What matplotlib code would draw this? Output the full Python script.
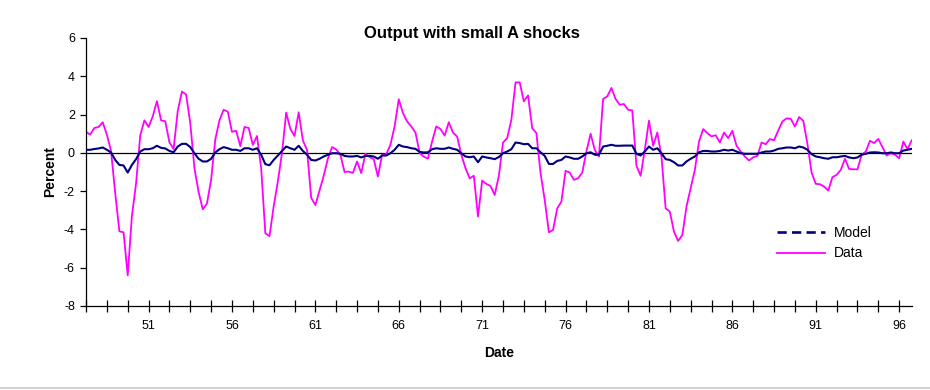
import numpy as np
import matplotlib
matplotlib.use("Agg")
import matplotlib.pyplot as plt
from matplotlib.lines import Line2D

plt.rcParams['font.family'] = ['Liberation Sans', 'DejaVu Sans']
plt.rcParams['axes.unicode_minus'] = False

# Quarterly observations, output deviations in percent
data = [
    1.1, 0.95, 1.3, 1.35, 1.6, 0.95, 0.1, -2.1, -4.1, -4.15,
    -6.4, -3.3, -1.6, 0.9, 1.7, 1.35, 1.9, 2.7, 1.7, 1.65,
    0.55, 0.2, 2.2, 3.2, 3.05, 1.55, -0.8, -2.05, -2.95, -2.65,
    -1.4, 0.7, 1.7, 2.25, 2.15, 1.1, 1.15, 0.35, 1.35, 1.3,
    0.42, 0.88, -0.8, -4.2, -4.35, -2.8, -1.5, 0.0, 2.1, 1.25,
    0.88, 2.12, 0.65, 0.15, -2.35, -2.73, -1.97, -1.2, -0.3, 0.3,
    0.18, -0.1, -1.0, -0.98, -1.05, -0.45, -1.06, -0.05, -0.22, -0.33,
    -1.24, -0.1, -0.07, 0.42, 1.38, 2.8, 2.08, 1.64, 1.38, 1.06,
    0.0, -0.2, -0.3, 0.6, 1.38, 1.25, 0.9, 1.6, 1.06, 0.85,
    -0.1, -0.8, -1.33, -1.2, -3.33, -1.45, -1.62, -1.73, -2.2, -1.2,
    0.54, 0.77, 1.73, 3.68, 3.68, 2.69, 3.0, 1.29, 1.03, -1.06,
    -2.46, -4.15, -4.03, -2.9, -2.55, -0.94, -1.03, -1.41, -1.33, -1.03,
    0.07, 1.0, 0.16, -0.19, 2.81, 2.95, 3.39, 2.81, 2.51, 2.55,
    2.25, 2.22, -0.68, -1.2, 0.16, 1.68, 0.37, 1.06, -0.19, -2.9,
    -3.07, -4.12, -4.6, -4.29, -2.8, -1.85, -0.89, 0.59, 1.24, 1.03,
    0.86, 0.92, 0.54, 1.06, 0.77, 1.15, 0.37, 0.07, -0.19, -0.4,
    -0.23, -0.16, 0.54, 0.45, 0.72, 0.66, 1.17, 1.64, 1.8, 1.78,
    1.38, 1.87, 1.68, 0.47, -1.03, -1.62, -1.64, -1.76, -1.97, -1.27,
    -1.15, -0.89, -0.31, -0.84, -0.86, -0.86, -0.1, 0.07, 0.63, 0.51,
    0.73, 0.3, -0.14, -0.02, -0.1, -0.28, 0.59, 0.19, 0.65,
]

model = [
    0.16, 0.16, 0.2, 0.23, 0.28, 0.16, 0.02, -0.37, -0.63, -0.66,
    -1.03, -0.63, -0.33, 0.07, 0.19, 0.19, 0.24, 0.37, 0.26, 0.23,
    0.1, 0.03, 0.33, 0.47, 0.47, 0.3, -0.02, -0.31, -0.45, -0.45,
    -0.31, 0.02, 0.19, 0.3, 0.24, 0.16, 0.16, 0.1, 0.24, 0.24,
    0.16, 0.24, -0.1, -0.59, -0.65, -0.37, -0.14, 0.1, 0.33, 0.24,
    0.16, 0.37, 0.1, -0.1, -0.37, -0.4, -0.31, -0.19, -0.1, -0.02,
    -0.02, -0.05, -0.16, -0.19, -0.19, -0.16, -0.24, -0.16, -0.16, -0.19,
    -0.31, -0.14, -0.14, -0.02, 0.16, 0.42, 0.33, 0.3, 0.24, 0.21,
    0.05, 0.02, 0.03, 0.19, 0.24, 0.21, 0.21, 0.28, 0.21, 0.16,
    -0.02, -0.19, -0.23, -0.19, -0.49, -0.19, -0.24, -0.28, -0.33, -0.22,
    -0.02, 0.07, 0.19, 0.54, 0.51, 0.45, 0.47, 0.24, 0.24, 0.03,
    -0.16, -0.58, -0.58, -0.42, -0.37, -0.19, -0.24, -0.31, -0.31, -0.19,
    -0.02, 0.03, -0.1, -0.1, 0.33, 0.37, 0.42, 0.37, 0.37, 0.38,
    0.38, 0.38, -0.05, -0.14, 0.07, 0.33, 0.16, 0.24, -0.02, -0.33,
    -0.37, -0.49, -0.66, -0.66, -0.45, -0.31, -0.19, 0.03, 0.1, 0.1,
    0.07, 0.07, 0.1, 0.16, 0.12, 0.16, 0.07, -0.02, -0.05, -0.05,
    -0.05, -0.05, 0.02, 0.07, 0.07, 0.12, 0.21, 0.24, 0.28, 0.28,
    0.24, 0.33, 0.28, 0.16, -0.07, -0.19, -0.23, -0.28, -0.31, -0.23,
    -0.23, -0.19, -0.16, -0.24, -0.28, -0.24, -0.1, -0.05, 0.02, 0.03,
    0.02, -0.02, -0.02, 0.02, -0.02, -0.02, 0.12, 0.16, 0.21,
]

year_labels = ['51', '56', '61', '66', '71', '76', '81', '86', '91', '96']

x = np.arange(len(data))

fig = plt.figure(figsize=(9.3, 3.9), dpi=100)
ax = fig.add_axes([0.0925, 0.2154, 0.8878, 0.6872])

ax.axhline(0, color='black', lw=0.9, zorder=1)
ax.plot(x, data, color='#FF00FF', lw=1.3, zorder=2)
ax.plot(x, model, color='#000080', lw=1.5, zorder=3)

ax.set_xlim(0, len(data) - 1)
ax.set_ylim(-8, 6)
ax.set_yticks(np.arange(-8, 7, 2))

# tick every 5 quarters, label every 20 quarters
ticks = np.arange(0, len(data), 5)
labels = [''] * len(ticks)
for k, lab in enumerate(year_labels):
    labels[3 + 4 * k] = lab
ax.set_xticks(ticks, labels)

for s in ['top', 'right']:
    ax.spines[s].set_visible(False)
for s in ['left', 'bottom']:
    ax.spines[s].set_linewidth(0.9)
ax.tick_params(axis='x', direction='inout', length=8, width=0.9, labelsize=9, pad=6)
ax.tick_params(axis='y', direction='out', length=4, width=0.9, labelsize=9, pad=4)

ax.set_xlabel('Date', fontsize=10, fontweight='bold', labelpad=10)
ax.set_ylabel('Percent', fontsize=10, fontweight='bold', labelpad=5)

fig.text(0.5075, 0.913, 'Output with small A shocks', fontsize=12,
         fontweight='bold', ha='center', va='center')

handles = [Line2D([], [], color='#000080', lw=1.9, linestyle=(0, (3.5, 2))),
           Line2D([], [], color='#FF00FF', lw=1.3)]
ax.legend(handles, ['Model', 'Data'], loc='upper left',
          bbox_to_anchor=(0.835, 0.42), bbox_transform=fig.transFigure,
          frameon=False, fontsize=10, handlelength=3.5, handletextpad=0.6,
          borderpad=0, borderaxespad=0, labelspacing=0.45)

# chart area border (only the bottom edge shows in the reference)
fig.add_artist(Line2D([0, 1], [0.004, 0.004], color='#c8c8c8', lw=1.2,
                      transform=fig.transFigure))

fig.savefig('out.png', dpi=100)
